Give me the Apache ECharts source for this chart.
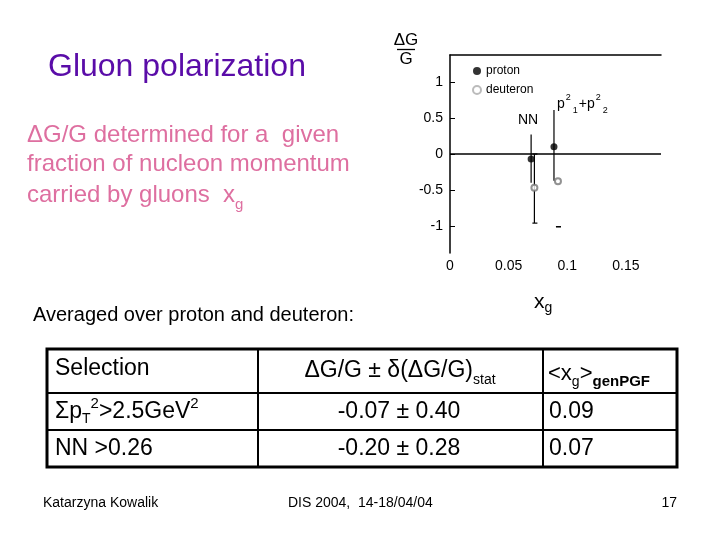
<!DOCTYPE html>
<html>
<head>
<meta charset="utf-8">
<script src="https://cdn.jsdelivr.net/npm/echarts@6/dist/echarts.min.js"></script>
<style>
html,body{margin:0;padding:0;background:#fff;}
#c{width:720px;height:540px;}
</style>
</head>
<body>
<div id="c"></div>
<script>
// ---- chart data ----
const protonX = [0.0692, 0.0887];
const protonY = [-0.07, 0.10];
const protonLow = [-0.40, -0.37];
const protonHigh = [0.27, 0.61];
const deuteronX = [0.0720, 0.0921];
const deuteronY = [-0.47, -0.38];
const deuteronLow = [-0.96, -1.01];
const deuteronHigh = [0.00, -1.01];
const xTicks = [0, 0.05, 0.1, 0.15];
const yTicks = [-1, -0.5, 0, 0.5, 1];
// ---- table data ----
const tableHeader = ['Selection', 'ΔG/G ± δ(ΔG/G)stat', '<xg>genPGF'];
const tableSelections = ['Σp_T²>2.5GeV²', 'NN >0.26'];
const tableValues = ['-0.07 ± 0.40', '-0.20 ± 0.28'];
const tableXg = ['0.09', '0.07'];

const FONT = '"Liberation Sans", Arial, sans-serif';
const chart = echarts.init(document.getElementById('c'), null, {renderer: 'canvas'});

function errRender(withCap) {
  return function (params, api) {
    const x = api.value(0), lo = api.value(1), hi = api.value(2);
    const a = api.coord([x, hi]), b = api.coord([x, lo]);
    const children = [];
    if (Math.abs(a[1] - b[1]) > 0.5) {
      children.push({type: 'line', shape: {x1: a[0], y1: a[1], x2: b[0], y2: b[1]},
        style: {stroke: '#000', lineWidth: 1.2}});
    }
    if (withCap) {
      [a, b].forEach(p => children.push({type: 'line',
        shape: {x1: p[0] - 2, y1: p[1], x2: p[0] + 3, y2: p[1]},
        style: {stroke: '#000', lineWidth: 1.2}}));
    }
    return {type: 'group', children};
  };
}

const fmt = v => (Math.abs(v) < 1e-9 ? '0' : String(+v.toFixed(3)));

const graphics = [];
function txt(x, y, text, opts) {
  graphics.push({type: 'text', x, y, silent: true,
    style: Object.assign({text, fontFamily: FONT, fill: '#000', verticalAlign: 'middle', align: 'left'}, opts)});
}
function line(x1, y1, x2, y2, w) {
  graphics.push({type: 'line', silent: true, shape: {x1, y1, x2, y2}, style: {stroke: '#000', lineWidth: w}});
}

// Titles
txt(48, 67, 'Gluon polarization', {fontSize: 32, fill: '#5a0ca8'});
const pink = '#de6fa0';
txt(27, 135, 'ΔG/G determined for a  given', {fontSize: 24, fill: pink});
txt(27, 164, 'fraction of nucleon momentum', {fontSize: 24, fill: pink});
txt(27, 195, '{m|carried by gluons  x}{s|g}', {fontSize: 24, fill: pink, lineHeight: 34,
  rich: {m: {fontSize: 24, fill: pink, fontFamily: FONT, verticalAlign: 'middle'},
         s: {fontSize: 15, fill: pink, fontFamily: FONT, verticalAlign: 'bottom'}}});
txt(33, 315, 'Averaged over proton and deuteron:', {fontSize: 20});

// Axis titles
txt(406, 40, 'ΔG', {fontSize: 17, align: 'center'});
line(397, 49.5, 415, 49.5, 1.3);
txt(406, 59, 'G', {fontSize: 17, align: 'center'});
txt(534, 302, '{m|x}{s|g}', {fontSize: 21, lineHeight: 26,
  rich: {m: {fontSize: 21, fontFamily: FONT, verticalAlign: 'middle'},
         s: {fontSize: 14, fontFamily: FONT, verticalAlign: 'bottom'}}});

// Annotations
txt(528, 120, 'NN', {fontSize: 14, align: 'center'});
txt(557, 104, '{m|p}{u|2}{d|1}{m|+p}{u|2}{d|2}', {fontSize: 14, lineHeight: 22,
  rich: {m: {fontSize: 14, fontFamily: FONT, verticalAlign: 'middle'},
         u: {fontSize: 9, fontFamily: FONT, verticalAlign: 'top', padding: [0, 2, 0, 1]},
         d: {fontSize: 9, fontFamily: FONT, verticalAlign: 'bottom', padding: [0, 1, 0, 0]}}});

// Table
const tL = 47, tR = 677, tT = 349, tB = 467, c1 = 258, c2 = 543, r1 = 393, r2 = 430;
graphics.push({type: 'rect', silent: true, shape: {x: tL, y: tT, width: tR - tL, height: tB - tT},
  style: {fill: 'none', stroke: '#000', lineWidth: 3}});
line(c1, tT, c1, tB, 2); line(c2, tT, c2, tB, 2);
line(tL, r1, tR, r1, 2); line(tL, r2, tR, r2, 2);
const TS = 23;
const rowY = [(r1 + r2) / 2, (r2 + tB) / 2];
txt(55, 369, tableHeader[0], {fontSize: TS});
txt(400, 371, '{m|ΔG/G ± δ(ΔG/G)}{s|stat}', {fontSize: TS, align: 'center', lineHeight: 32,
  rich: {m: {fontSize: TS, fontFamily: FONT, verticalAlign: 'middle'},
         s: {fontSize: 14, fontFamily: FONT, verticalAlign: 'bottom'}}});
txt(548, 374, '{m|<x}{s|g}{m|>}{b|genPGF}', {fontSize: 22, lineHeight: 30,
  rich: {m: {fontSize: 22, fontFamily: FONT, verticalAlign: 'middle'},
         s: {fontSize: 14, fontFamily: FONT, verticalAlign: 'bottom'},
         b: {fontSize: 15, fontFamily: FONT, fontWeight: 'bold', verticalAlign: 'bottom'}}});
txt(55, rowY[0], '{m|Σp}{s|T}{u|2}{m|>2.5GeV}{u|2}', {fontSize: TS, lineHeight: 30,
  rich: {m: {fontSize: TS, fontFamily: FONT, verticalAlign: 'middle'},
         s: {fontSize: 14, fontFamily: FONT, verticalAlign: 'bottom'},
         u: {fontSize: 15, fontFamily: FONT, verticalAlign: 'top'}}});
txt(55, rowY[1], tableSelections[1], {fontSize: TS});
tableValues.forEach((v, i) => txt(399, rowY[i], v, {fontSize: TS, align: 'center'}));
tableXg.forEach((v, i) => txt(549, rowY[i], v, {fontSize: TS}));

// Footer
txt(43, 503, 'Katarzyna Kowalik', {fontSize: 14});
txt(288, 503, 'DIS 2004,  14-18/04/04', {fontSize: 14});
txt(677, 503, '17', {fontSize: 14, align: 'right'});

const option = {
  animation: false,
  backgroundColor: '#fff',
  textStyle: {fontFamily: FONT},
  grid: {left: 450, right: 59, top: 55, bottom: 287},
  legend: {
    orient: 'vertical', left: 467, top: 60, itemWidth: 8, itemHeight: 8, itemGap: 7,
    textStyle: {fontSize: 12, color: '#000', fontFamily: FONT},
    data: [
      {name: 'proton', icon: 'circle', itemStyle: {color: '#000'}},
      {name: 'deuteron', icon: 'emptyCircle', itemStyle: {color: '#aaa', borderColor: '#aaa', borderWidth: 1}}
    ]
  },
  xAxis: [{
    type: 'value', min: 0, max: 0.18, interval: 0.05,
    axisLine: {show: false}, axisTick: {show: false}, splitLine: {show: false},
    axisLabel: {fontSize: 14, color: '#000', margin: 6, showMaxLabel: false,
      formatter: v => (xTicks.some(t => Math.abs(t - v) < 1e-6) ? fmt(v) : '')}
  }, {
    type: 'value', position: 'top', min: 0, max: 0.18,
    axisLine: {show: true, onZero: false, lineStyle: {color: '#000', width: 1.5}},
    axisTick: {show: false}, axisLabel: {show: false}, splitLine: {show: false}
  }],
  yAxis: {
    type: 'value', min: -1.375, max: 1.375, splitNumber: 5,
    axisLine: {show: true, lineStyle: {color: '#000', width: 1.5}},
    axisTick: {show: true, inside: true, length: 5, lineStyle: {color: '#000'}},
    splitLine: {show: false},
    axisLabel: {fontSize: 14, color: '#000', margin: 7, showMinLabel: false, showMaxLabel: false,
      formatter: v => (yTicks.some(t => Math.abs(t - v) < 1e-6) ? fmt(v) : '')}
  },
  series: [
    {
      name: 'proton', type: 'scatter', symbol: 'circle', symbolSize: 7,
      itemStyle: {color: '#000'},
      data: protonX.map((x, i) => [x, protonY[i]]),
      z: 5,
      markLine: {silent: true, symbol: 'none', label: {show: false},
        lineStyle: {color: '#000', width: 1.5, type: 'solid'}, data: [{yAxis: 0}]}
    },
    {
      name: 'deuteron', type: 'scatter', symbol: 'emptyCircle', symbolSize: 6,
      itemStyle: {color: '#777', borderColor: '#777', borderWidth: 1},
      data: deuteronX.map((x, i) => [x, deuteronY[i]]),
      z: 5
    },
    {
      name: 'proton err', type: 'custom', renderItem: errRender(false),
      data: protonX.map((x, i) => [x, protonLow[i], protonHigh[i]]), z: 3
    },
    {
      name: 'deuteron err', type: 'custom', renderItem: errRender(true),
      data: deuteronX.map((x, i) => [x, deuteronLow[i], deuteronHigh[i]]), z: 3
    }
  ],
  graphic: graphics
};
chart.setOption(option);
</script>
</body>
</html>
